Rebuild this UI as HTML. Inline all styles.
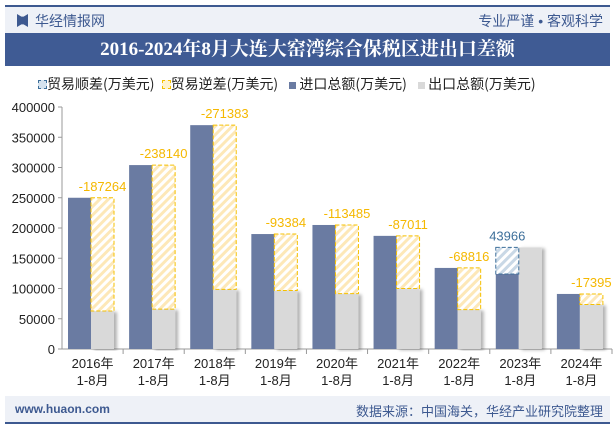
<!DOCTYPE html>
<html><head><meta charset="utf-8"><style>
body{margin:0;width:615px;height:427px;background:#fff;font-family:"Liberation Sans","Noto Sans CJK SC",sans-serif;overflow:hidden;position:relative}
.abs{position:absolute}
</style></head><body>
<div class="abs" style="left:5px;top:5px;width:605px;height:2px;background:#3d5990"></div>
<div class="abs" style="left:5px;top:7px;width:605px;height:26px;background:#eef1f7"></div>
<div class="abs" style="left:17px;top:14px;width:11px;height:13px;background:#3d5990;clip-path:polygon(0 0,40% 20%,60% 20%,100% 0,100% 100%,60% 80%,40% 80%,0 100%)"></div>
<div class="abs" style="left:35px;top:11px;font-size:14px;color:#3d5990">华经情报网</div>
<div class="abs" style="right:12px;top:11px;font-size:14px;color:#3d5990">专业严谨 • 客观科学</div>
<div class="abs" style="left:5px;top:33px;width:605px;height:33px;background:#3f5b94;color:#fff;font-family:'Liberation Serif','Noto Serif CJK SC',serif;font-weight:bold;font-size:19px;text-align:center;line-height:33px">2016-2024年8月大连大窑湾综合保税区进出口差额</div>
<div class="abs" style="left:38px;top:74px;font-size:14px;color:#222;white-space:nowrap;font-family:'Noto Sans CJK SC',sans-serif">
<span><span style="display:inline-block;width:7px;height:7px;border:1px dashed #3d6f9a;background:#d4e2ee"></span>贸易顺差(万美元)</span>
<span style="margin-left:4px"><span style="display:inline-block;width:7px;height:7px;border:1px dashed #f5c000;background:#fff3cf"></span>贸易逆差(万美元)</span>
<span style="margin-left:8px"><span style="display:inline-block;width:7px;height:7px;background:#6a7ba2"></span> 进口总额(万美元)</span>
<span style="margin-left:8px"><span style="display:inline-block;width:7px;height:7px;background:#d9d9d9"></span> 出口总额(万美元)</span>
</div>
<svg class="abs" style="left:0;top:0" width="615" height="427" id="svg">
<defs>
<pattern id="hy" width="6" height="6" patternUnits="userSpaceOnUse" patternTransform="rotate(45)"><rect width="6" height="6" fill="#fff"/><rect width="3" height="6" fill="#fde8b8"/></pattern>
<pattern id="hb" width="6" height="6" patternUnits="userSpaceOnUse" patternTransform="rotate(45)"><rect width="6" height="6" fill="#fff"/><rect width="3" height="6" fill="#c9d8e6"/></pattern>
<filter id="sh" x="-20%" y="-5%" width="150%" height="110%"><feDropShadow dx="3" dy="1" stdDeviation="1.5" flood-color="#000" flood-opacity="0.3"/></filter>
</defs>
</svg>
<div class="abs" style="left:5px;top:396px;width:605px;height:26px;background:#eef1f7"></div>
<div class="abs" style="left:15px;top:402px;font-size:12px;color:#3d5990;font-weight:bold">www.huaon.com</div>
<div class="abs" style="right:12px;top:401px;font-size:13px;color:#3d5990">数据来源：中国海关，华经产业研究院整理</div>
<div class="abs" style="left:5px;top:422px;width:605px;height:2px;background:#3d5990"></div>
<script>
const categories=["2016年","2017年","2018年","2019年","2020年","2021年","2022年","2023年","2024年"];
const imports=[250000,304000,370000,190000,205000,187000,134000,124000,91000];
const balance=[-187264,-238140,-271383,-93384,-113485,-87011,-68816,43966,-17395];
const yTicks=[0,50000,100000,150000,200000,250000,300000,350000,400000];
const NS="http://www.w3.org/2000/svg",svg=document.getElementById('svg');
const x0=62,x1=612,y0=349,y1=107,ymax=400000;
const Y=v=>y0-(v/ymax)*(y0-y1);
const bw=(x1-x0)/categories.length;
function mk(t,a,p){const e=document.createElementNS(NS,t);for(const k in a)e.setAttribute(k,a[k]);(p||svg).appendChild(e);return e;}
yTicks.forEach(v=>{
 const t=mk('text',{x:x0-7,y:Y(v)+5,'text-anchor':'end','font-size':13,fill:'#222'});t.textContent=v;
 
 
 mk('line',{x1:x0-4,x2:x0,y1:Y(v),y2:Y(v),stroke:'#999'});
});
mk('line',{x1:x0,x2:x0,y1:y1,y2:y0,stroke:'#999'});
mk('line',{x1:x0,x2:x1,y1:y0,y2:y0,stroke:'#999'});
categories.forEach((c,i)=>{
 const cx=x0+bw*i, w=23, xa=cx+6, xb=xa+w;
 const imp=imports[i], exp=imp+balance[i];
 const r1=mk('rect',{x:xa,y:Y(imp),width:w,height:y0-Y(imp),fill:'#6a7ba2'});
 
 
 const r2=mk('rect',{x:xb,y:Y(exp),width:w,height:y0-Y(exp),fill:'#d9d9d9',filter:'url(#sh)'});
 
 
 const b=balance[i];let bx,top,bot,col,fill;
 if(b<0){bx=xb;top=Y(imp);bot=Y(exp);col='#f5c000';fill='url(#hy)';}
 else{bx=xa;top=Y(exp);bot=Y(imp);col='#3d6f9a';fill='url(#hb)';}
 const r3=mk('rect',{x:bx,y:top,width:w,height:bot-top,fill:fill,stroke:col,'stroke-dasharray':'4,2'});
 
 
 const lt=mk('text',{x:bx+w/2,y:top-7,'text-anchor':'middle','font-size':13,fill:b<0?'#f5b800':'#3d6f9a'});lt.textContent=b;
 
 
 mk('line',{x1:cx+bw,x2:cx+bw,y1:y0,y2:y0+5,stroke:'#999'});
 const t1=mk('text',{x:cx+bw/2,y:y0+19,'text-anchor':'middle','font-size':13,fill:'#222'});t1.textContent=c;
 
 
 const t2=mk('text',{x:cx+bw/2,y:y0+36,'text-anchor':'middle','font-size':13,fill:'#222'});t2.textContent='1-8月';
 
 
});
</script>
</body></html>
